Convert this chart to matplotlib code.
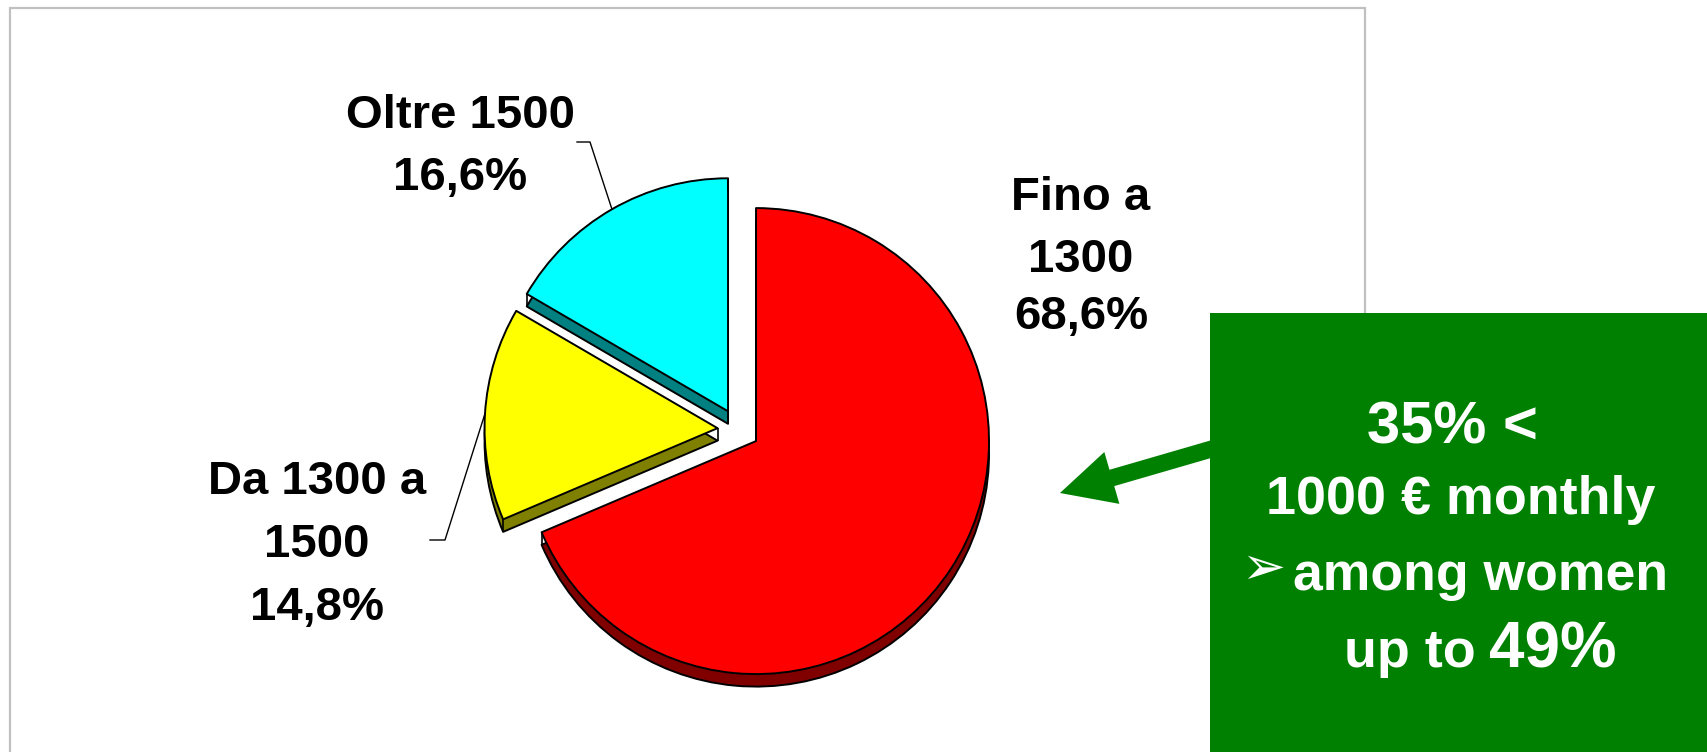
import numpy as np
import matplotlib
matplotlib.use("Agg")
import matplotlib.pyplot as plt
from matplotlib.patches import Rectangle, FancyArrow

# ---- data ----
categories = ["Fino a\n1300", "Da 1300 a\n1500", "Oltre 1500"]
shares = [68.6, 14.8, 16.6]
top_colors = ["#FF0000", "#FFFF00", "#00FFFF"]
side_colors = ["#800000", "#808000", "#008080"]
callout_lines = ["35% <", "1000 € monthly", "among women", "up to ", "49%"]

W, H, DPI = 1708, 752, 100
CX, CY, R = 738.5, 429.5, 233.0      # pie centre / radius in pixels
DEPTH = 12.5 / R                     # thickness of the 3-D rim
EXPLODE = 21.0 / R


def P(px, py):
    """pixel position (from top-left) -> data units of the pie axes"""
    return (px - CX) / R, (CY - py) / R


fig = plt.figure(figsize=(W / DPI, H / DPI), dpi=DPI)
ax = fig.add_axes([0, 0, 1, 1])

explode = [EXPLODE] * len(shares)
wp = dict(edgecolor="black", linewidth=1.4, joinstyle="round")

# rim (shifted copy in darker tones), then the top faces
rims, _ = ax.pie(shares, explode=explode, colors=side_colors, startangle=90,
                 counterclock=False, center=(0, -DEPTH), wedgeprops=wp)
wedges, _ = ax.pie(shares, explode=explode, colors=top_colors, startangle=90,
                   counterclock=False, center=(0, 0), wedgeprops=wp)

# vertical rim edges at the corners where a side face is visible
for w in wedges:
    t1, t2 = np.deg2rad(w.theta1), np.deg2rad(w.theta2)
    face1 = np.cos(t1) > 1e-9       # radial face at theta1 turned to viewer
    face2 = np.cos(t2) < -1e-9      # radial face at theta2 turned to viewer
    for t, face in ((t1, face1), (t2, face2)):
        if face or np.sin(t) < -1e-9:
            ex = w.center[0] + w.r * np.cos(t)
            ey = w.center[1] + w.r * np.sin(t)
            ax.plot([ex, ex], [ey, ey - DEPTH], color="black",
                    linewidth=1.2, zorder=3, solid_capstyle="butt")
    if face1 or face2:
        ax.plot([w.center[0]] * 2, [w.center[1], w.center[1] - DEPTH],
                color="black", linewidth=1.2, zorder=3, solid_capstyle="butt")

x0, y0 = P(0, H)
x1, y1 = P(W, 0)
ax.set_xlim(x0, x1)
ax.set_ylim(y0, y1)
ax.set_aspect("auto")
ax.axis("off")

# chart frame
fx0, fy0 = P(10, H + 20)
fx1, fy1 = P(1365, 8)
ax.add_patch(Rectangle((fx0, fy0), fx1 - fx0, fy1 - fy0, fill=False,
                       edgecolor="#C0C0C0", linewidth=1.6, zorder=0.5,
                       clip_on=False))

label_font = dict(family=["Liberation Sans", "Arial", "DejaVu Sans"],
                  fontweight="bold", fontsize=34, color="black")


def pct(v):
    return f"{v:.1f}%".replace(".", ",")


def draw_label(lines, cx, baselines):
    for txt, by in zip(lines, baselines):
        x, y = P(cx, by)
        ax.text(x, y, txt, ha="center", va="baseline", zorder=5, **label_font)


def arc_mid(w):
    mid = np.deg2rad((w.theta1 + w.theta2) / 2)
    return w.center[0] + w.r * np.cos(mid), w.center[1] + w.r * np.sin(mid)


# Fino a 1300
draw_label(categories[0].split("\n") + [pct(shares[0])], 1081, [210, 272, 329])
# Da 1300 a 1500
draw_label(categories[1].split("\n") + [pct(shares[1])], 317, [494, 557, 620])
# Oltre 1500
draw_label(categories[2].split("\n") + [pct(shares[2])], 460, [128, 190])

# leader lines
for w, elbow in ((wedges[2], [(577, 142), (590, 142)]),
                 (wedges[1], [(430, 540), (445, 540)])):
    pts = [P(*e) for e in elbow] + [arc_mid(w)]
    xs, ys = zip(*pts)
    ax.plot(xs, ys, color="black", linewidth=1.0, zorder=4, clip_on=False)

# green call-out box
GREEN = "#008000"
bx0, by0 = P(1210, H + 20)
bx1, by1 = P(W + 20, 313)
ax.add_patch(Rectangle((bx0, by0), bx1 - bx0, by1 - by0, facecolor=GREEN,
                       edgecolor="none", zorder=6, clip_on=False))

# arrow pointing from the box to the pie
sx, sy = P(1215, 448)
tx, ty = P(1060, 493)
ax.add_patch(FancyArrow(sx, sy, tx - sx, ty - sy, width=17 / R,
                        head_width=54 / R, head_length=54 / R,
                        length_includes_head=True, color=GREEN,
                        linewidth=0, zorder=6))

white = dict(family=["Liberation Sans", "Arial", "DejaVu Sans"],
             fontweight="bold", color="white", zorder=7, va="baseline")

x, y = P(1452, 443)
ax.text(x, y, callout_lines[0], ha="center", fontsize=43, **white)
x, y = P(1461, 514)
ax.text(x, y, callout_lines[1], ha="center", fontsize=38.8, **white)
x, y = P(1481, 590)
ax.text(x, y, callout_lines[2], ha="center", fontsize=38.5, **white)
x, y = P(1241, 569)
ax.text(x, y, "\u27a2", ha="left", va="center", fontsize=38,
        color="white", family=["DejaVu Sans"], zorder=7)
x, y = P(1476, 667)
ax.text(x, y, callout_lines[3].strip(), ha="right", fontsize=38.8, **white)
x, y = P(1489, 667)
ax.text(x, y, callout_lines[4], ha="left", fontsize=45.8, **white)

fig.savefig("out.png", dpi=DPI, facecolor="white")
